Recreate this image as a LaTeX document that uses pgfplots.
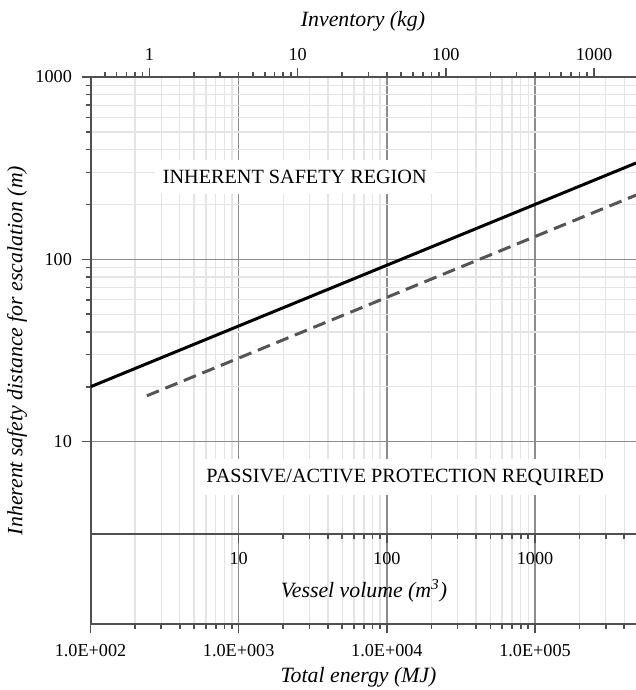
\documentclass[border=0pt]{standalone}
\usepackage{fontspec}
\setmainfont{Liberation Serif}
\usepackage{pgfplots}
\pgfplotsset{compat=1.18}
\usetikzlibrary{calc}
\definecolor{axgray}{HTML}{505050}
\definecolor{majgrid}{HTML}{8C8C8C}
\definecolor{mingrid}{HTML}{E4E4E4}
\definecolor{dashgray}{HTML}{555555}

\begin{document}
\begin{tikzpicture}
% main axis: total energy vs distance
\begin{axis}[at={(0,0)}, anchor=south west, scale only axis,
  width=272.75pt, height=273.5pt,
  xmode=log, ymode=log,
  xmin=100, xmax=4.8e5, ymin=1, ymax=1000,
  axis x line*=bottom, axis y line*=left,
  tick align=outside,
  axis line style={axgray, line width=1pt},
  tick style={axgray, line width=0.8pt},
  major tick length=4.5pt, minor tick length=2.5pt,
  tick label style={font=\fontsize{9.1}{11}\selectfont},
  xtick={100,1000,10000,100000},
  xticklabels={1.0E+002,1.0E+003,1.0E+004,1.0E+005},
  minor xtick={200,300,400,500,600,700,800,900,
    2000,3000,4000,5000,6000,7000,8000,9000,
    20000,30000,40000,50000,60000,70000,80000,90000,
    200000,300000,400000},
  ytick={10,100,1000}, yticklabels={10,100,1000},
  minor ytick={20,30,40,50,60,70,80,90,200,300,400,500,600,700,800,900},
  xticklabel style={yshift=-2.4pt},
  yticklabel style={xshift=-1.3pt},
  grid=both,
  major grid style={majgrid, line width=0.8pt},
  minor grid style={mingrid, line width=0.7pt},
]
\addplot[black, line width=1.5pt] coordinates {(100,20) (480000,337.4)};
\addplot[dashgray, line width=1.5pt, dash pattern=on 6.5pt off 3.5pt] coordinates {(240,17.85) (480000,224.9)};
\node[fill=white, inner xsep=4pt, inner ysep=5pt, font=\fontsize{10.1}{12}\selectfont] at (axis cs:2390,283) {INHERENT SAFETY REGION};
\node[fill=white, inner xsep=4pt, inner ysep=5pt, font=\fontsize{10.1}{12}\selectfont] at (axis cs:13300,6.4) {PASSIVE/ACTIVE PROTECTION REQUIRED};
\coordinate (bl) at (rel axis cs:0,0);
\end{axis}

% top axis: inventory
\begin{axis}[at={(0,0)}, anchor=south west, scale only axis,
  width=272.75pt, height=273.5pt,
  xmode=log, xmin=0.4, xmax=1920, ymin=0, ymax=1,
  axis x line*=top, hide y axis,
  tick align=outside,
  axis line style={axgray, line width=1pt},
  tick style={axgray, line width=0.8pt},
  major tick length=4.5pt, minor tick length=2.5pt,
  tick label style={font=\fontsize{9.1}{11}\selectfont},
  xtick={1,10,100,1000}, xticklabels={1,10,100,1000},
  minor xtick={0.5,0.6,0.7,0.8,0.9,2,3,4,5,6,7,8,9,
    20,30,40,50,60,70,80,90,200,300,400,500,600,700,800,900},
]
\end{axis}

% inner axis: vessel volume
\begin{axis}[at={(0,45pt)}, anchor=south west, scale only axis,
  width=272.75pt, height=10pt,
  xmode=log, xmin=1, xmax=4800, ymin=0, ymax=1,
  axis x line*=bottom, hide y axis,
  tick align=outside,
  axis line style={axgray, line width=1pt},
  tick style={axgray, line width=0.8pt},
  major tick length=4.5pt, minor tick length=2.5pt,
  tick label style={font=\fontsize{9.1}{11}\selectfont},
  xtick={10,100,1000}, xticklabels={10,100,1000},
  minor xtick={20,30,40,50,60,70,80,90,200,300,400,500,600,700,800,900,2000,3000,4000},
  xticklabel style={yshift=-1.4pt},
]
\end{axis}

\node[font=\fontsize{10.9}{13}\selectfont\itshape] at ($(bl)+(136.25pt,301.5pt)$) {Inventory (kg)};
\node[font=\fontsize{10.9}{13}\selectfont\itshape] at ($(bl)+(134pt,-26.5pt)$) {Total energy (MJ)};
\node[font=\fontsize{10.9}{13}\selectfont\itshape, rotate=90] at ($(bl)+(-36.75pt,136.75pt)$) {Inherent safety distance for escalation (m)};
\node[font=\fontsize{10.9}{13}\selectfont\itshape] at ($(bl)+(136.75pt,16.5pt)$) {Vessel volume (m\textsuperscript{3})};

\pgfresetboundingbox
\path[use as bounding box] ($(bl)+(-45.25pt,-33pt)$) rectangle ($(bl)+(272.75pt,312pt)$);
\end{tikzpicture}
\end{document}
